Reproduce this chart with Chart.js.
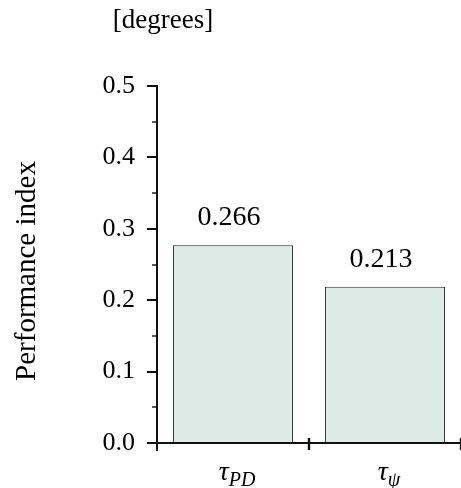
<!DOCTYPE html>
<html>
<head>
<meta charset="utf-8">
<script src="https://cdn.jsdelivr.net/npm/chart.js@4/dist/chart.umd.min.js"></script>
<style>
  html, body { margin: 0; padding: 0; background: #fff; }
  canvas { display: block; }
</style>
</head>
<body>
<canvas id="mycanvas" width="461" height="488"></canvas>
<script>
// categories: tau symbol + subscript
const categories = ['PD', 'ψ'];
// bar heights as drawn in the picture
const barHeights = [0.277, 0.219];
// numbers printed above the bars
const valueLabels = ['0.266', '0.213'];
// y tick labels
const yTicks = [0.0, 0.1, 0.2, 0.3, 0.4, 0.5];

const serif = '"Liberation Serif", "DejaVu Serif", "Times New Roman", serif';

const axesPlugin = {
  id: 'axesPlugin',
  afterDatasetsDraw(chart) {
    const ctx = chart.ctx;
    const x = chart.scales.x, y = chart.scales.y;
    const left = chart.chartArea.left;
    const y0 = y.getPixelForValue(0);
    const yTop = y.getPixelForValue(0.5);
    ctx.save();
    ctx.strokeStyle = '#111';
    ctx.lineWidth = 2;
    // y axis line
    ctx.beginPath();
    ctx.moveTo(left, yTop - 1);
    ctx.lineTo(left, y0 + 8);
    ctx.stroke();
    // x axis line
    ctx.beginPath();
    ctx.moveTo(left - 9, y0);
    ctx.lineTo(chart.width, y0);
    ctx.stroke();
    // y ticks, major and minor
    for (let v = 0; v <= 0.5001; v += 0.05) {
      const py = Math.round(y.getPixelForValue(v));
      const major = Math.round(v * 100) % 10 === 0;
      ctx.lineWidth = major ? 2 : 1.4;
      ctx.beginPath();
      ctx.moveTo(left - (major ? 10 : 5), py);
      ctx.lineTo(left + (major ? 0 : 1), py);
      ctx.stroke();
    }
    // x ticks at category boundaries
    const half = (x.getPixelForValue(1) - x.getPixelForValue(0)) / 2;
    ctx.lineWidth = 2.4;
    for (let i = 0; i < categories.length; i++) {
      const px = x.getPixelForValue(i) + half;
      ctx.beginPath();
      ctx.moveTo(px, y0 - 5);
      ctx.lineTo(px, y0 + 7);
      ctx.stroke();
    }
    ctx.restore();
  },
  afterDraw(chart) {
    const ctx = chart.ctx;
    const x = chart.scales.x, y = chart.scales.y;
    const left = chart.chartArea.left;
    ctx.save();
    ctx.fillStyle = '#000';

    // y tick labels
    ctx.font = '26px ' + serif;
    ctx.textAlign = 'right';
    ctx.textBaseline = 'middle';
    yTicks.forEach(v => {
      ctx.fillText(v.toFixed(1), left - 22, y.getPixelForValue(v));
    });

    // value labels above bars
    ctx.font = '28px ' + serif;
    ctx.textAlign = 'center';
    ctx.textBaseline = 'alphabetic';
    const meta = chart.getDatasetMeta(0);
    meta.data.forEach((bar, i) => {
      ctx.fillText(valueLabels[i], bar.x - 4, bar.y - 20);
    });

    // x category labels: italic tau with subscript
    categories.forEach((sub, i) => {
      const cx = x.getPixelForValue(i);
      ctx.font = 'italic 28px ' + serif;
      const wTau = ctx.measureText('τ').width;
      ctx.font = 'italic 20px ' + serif;
      const wSub = ctx.measureText(sub).width;
      const start = cx - (wTau + wSub) / 2 + 4;
      ctx.textAlign = 'left';
      ctx.font = 'italic 28px ' + serif;
      ctx.fillText('τ', start, 480);
      ctx.font = 'italic 20px ' + serif;
      ctx.fillText(sub, start + wTau, 486);
    });

    // unit label on top
    ctx.font = '27px ' + serif;
    ctx.textAlign = 'center';
    ctx.textBaseline = 'middle';
    ctx.fillText('[degrees]', 163, 21);

    // y axis title
    ctx.translate(27, 271);
    ctx.rotate(-Math.PI / 2);
    ctx.font = '29px ' + serif;
    ctx.fillText('Performance index', 0, 0);
    ctx.restore();
  }
};

new Chart(document.getElementById('mycanvas'), {
  type: 'bar',
  data: {
    labels: categories,
    datasets: [{
      data: barHeights,
      backgroundColor: '#dcebe5',
      borderColor: '#2a2a2a',
      borderWidth: 1,
      barPercentage: 0.79,
      categoryPercentage: 1.0
    }]
  },
  options: {
    responsive: false,
    devicePixelRatio: 1,
    animation: false,
    layout: { padding: { left: 157, top: 86, right: 0, bottom: 45 } },
    plugins: { legend: { display: false }, tooltip: { enabled: false } },
    scales: {
      x: { display: false },
      y: { display: false, min: 0, max: 0.5 }
    }
  },
  plugins: [axesPlugin]
});
</script>
</body>
</html>
